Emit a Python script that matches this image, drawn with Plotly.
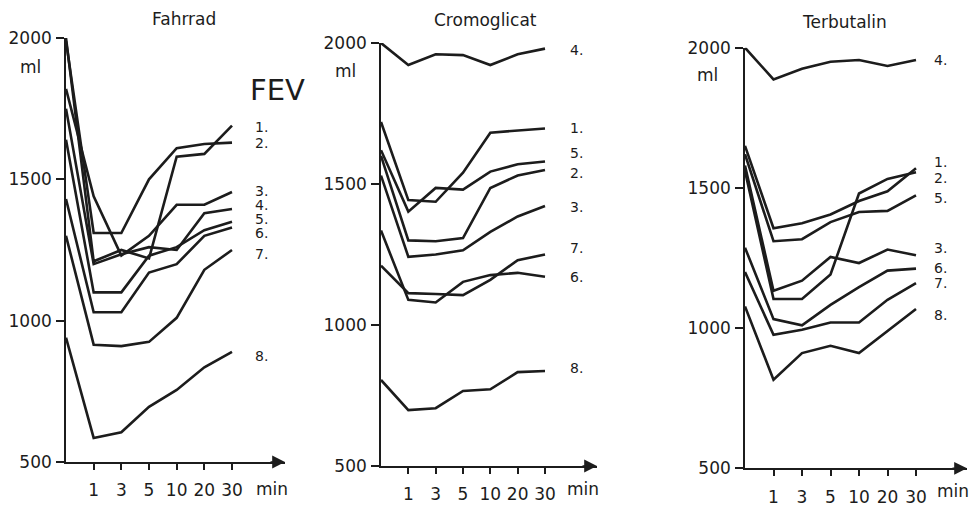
import plotly.graph_objects as go

# ---------------- data ----------------
time_ticks = ["1", "3", "5", "10", "20", "30"]          # pre-value sits at the origin
time_index = [0, 1, 2, 3, 4, 5, 6]
series_names = ["1.", "2.", "3.", "4.", "5.", "6.", "7.", "8."]
panel_titles = ["Fahrrad", "Cromoglicat", "Terbutalin"]
y_ticks = [500, 1000, 1500, 2000]

fahrrad = [
    [2000, 1210, 1250, 1220, 1580, 1590, 1690],
    [1990, 1310, 1310, 1500, 1610, 1625, 1630],
    [1820, 1440, 1230, 1300, 1410, 1410, 1455],
    [1750, 1200, 1235, 1260, 1250, 1380, 1395],
    [1640, 1100, 1100, 1230, 1260, 1320, 1350],
    [1430, 1030, 1030, 1170, 1200, 1300, 1330],
    [1300, 915, 910, 925, 1010, 1180, 1250],
    [940, 585, 605, 695, 755, 835, 890],
]
cromoglicat = [
    [1720, 1443, 1437, 1540, 1682, 1690, 1697],
    [1600, 1300, 1297, 1308, 1486, 1530, 1550],
    [1530, 1242, 1250, 1265, 1330, 1385, 1422],
    [2000, 1922, 1960, 1957, 1922, 1960, 1980],
    [1620, 1402, 1486, 1480, 1544, 1570, 1580],
    [1335, 1089, 1080, 1153, 1177, 1185, 1171],
    [1210, 1113, 1110, 1106, 1160, 1230, 1250],
    [805, 698, 705, 766, 772, 833, 837],
]
terbutalin = [
    [1650, 1356, 1374, 1405, 1453, 1488, 1570],
    [1560, 1104, 1104, 1191, 1480, 1532, 1556],
    [1580, 1133, 1169, 1254, 1232, 1280, 1260],
    [2000, 1887, 1925, 1950, 1956, 1935, 1956],
    [1620, 1310, 1317, 1378, 1414, 1418, 1473],
    [1287, 1032, 1010, 1083, 1146, 1205, 1212],
    [1200, 976, 994, 1020, 1020, 1101, 1160],
    [1077, 816, 911, 937, 911, 988, 1068],
]
panels_data = [fahrrad, cromoglicat, terbutalin]

# ---------------- layout (pixel geometry of the 979x506 window) ----------------
PAGE_W, PAGE_H = 979, 506
BODY_MARGIN = 8                      # browser default margin around the plot div
W, H = PAGE_W - BODY_MARGIN, PAGE_H - BODY_MARGIN
INK = "#1c1c1c"
FONT = "DejaVu Sans"

def px(x):
    return (x - BODY_MARGIN) / W

def py(y):
    return 1 - (y - BODY_MARGIN) / H

# origin x, 30-min tick x, arrow end x, y of 2000, y of 500
geom = [
    dict(x0=66, x30=232, xend=285, ytop=38, ybot=462),
    dict(x0=381, x30=545, xend=597, ytop=43, ybot=466),
    dict(x0=745, x30=916, xend=967, ytop=47.7, ybot=468.3),
]
title_pos = [(184, 19), (485, 20), (844, 22)]
ml_pos = [(30, 67), (345, 71), (707, 75)]
min_pos = [(272, 489), (583, 489), (953, 491)]
label_x = [253, 568, 932]
label_y = [
    {"1.": 127, "2.": 143, "3.": 191, "4.": 205, "5.": 219, "6.": 233, "7.": 254, "8.": 356},
    {"4.": 50, "1.": 128, "5.": 153, "2.": 173, "3.": 207, "7.": 248, "6.": 277, "8.": 368},
    {"4.": 60, "1.": 162, "2.": 178, "5.": 198, "3.": 248, "6.": 268, "7.": 283, "8.": 315},
]

fig = go.Figure()
annotations = []
layout_axes = {}

for p, (data, g) in enumerate(zip(panels_data, geom)):
    sfx = "" if p == 0 else str(p + 1)
    xa, ya = "x" + sfx, "y" + sfx
    step = (g["x30"] - g["x0"]) / 6
    xmax = (g["xend"] - g["x0"]) / step
    for name, vals in zip(series_names, data):
        fig.add_trace(go.Scatter(
            x=time_index, y=vals, mode="lines", name=name,
            line=dict(color=INK, width=2.6), xaxis=xa, yaxis=ya,
            showlegend=False, hoverinfo="skip", cliponaxis=False,
        ))
    layout_axes["xaxis" + sfx] = dict(
        domain=[px(g["x0"]), px(g["xend"])], range=[0, xmax], anchor=ya,
        tickvals=time_index[1:], ticktext=time_ticks, ticks="outside",
        ticklen=6, tickwidth=1.5, tickcolor=INK, showline=True,
        linecolor=INK, linewidth=1.6, showgrid=False, zeroline=False,
        tickfont=dict(family=FONT, size=17, color=INK), ticklabelstandoff=6,
        fixedrange=True, automargin=False,
    )
    layout_axes["yaxis" + sfx] = dict(
        domain=[py(g["ybot"]), py(g["ytop"])], range=[500, 2000], anchor=xa,
        tickvals=y_ticks, ticktext=[str(v) for v in y_ticks], ticks="outside",
        ticklen=8, tickwidth=1.5, tickcolor=INK, showline=True,
        linecolor=INK, linewidth=1.6, showgrid=False, zeroline=False,
        tickfont=dict(family=FONT, size=17, color=INK), ticklabelstandoff=1,
        fixedrange=True, automargin=False,
    )
    # arrow head on the time axis
    annotations.append(dict(
        x=xmax, y=500, xref=xa, yref=ya, text="", showarrow=True,
        ax=-16, ay=0, arrowhead=2, arrowsize=1.6, arrowwidth=1.6, arrowcolor=INK,
        standoff=0,
    ))
    tx, ty = title_pos[p]
    annotations.append(dict(x=px(tx), y=py(ty), xref="paper", yref="paper",
                            text=panel_titles[p], showarrow=False,
                            font=dict(family=FONT, size=17, color=INK),
                            xanchor="center", yanchor="middle"))
    mx, my = ml_pos[p]
    annotations.append(dict(x=px(mx), y=py(my), xref="paper", yref="paper",
                            text="ml", showarrow=False,
                            font=dict(family=FONT, size=17, color=INK),
                            xanchor="center", yanchor="middle"))
    nx, ny = min_pos[p]
    annotations.append(dict(x=px(nx), y=py(ny), xref="paper", yref="paper",
                            text="min", showarrow=False,
                            font=dict(family=FONT, size=17, color=INK),
                            xanchor="center", yanchor="middle"))
    for name in series_names:
        annotations.append(dict(x=px(label_x[p]), y=py(label_y[p][name]),
                                xref="paper", yref="paper", text=name,
                                showarrow=False,
                                font=dict(family=FONT, size=14, color=INK),
                                xanchor="left", yanchor="middle"))

annotations.append(dict(x=px(277), y=py(90), xref="paper", yref="paper",
                        text="FEV", showarrow=False,
                        font=dict(family=FONT, size=29, color=INK),
                        xanchor="center", yanchor="middle"))

fig.update_layout(
    width=W, height=H, margin=dict(l=0, r=0, t=0, b=0, autoexpand=False),
    paper_bgcolor="white", plot_bgcolor="white",
    annotations=annotations, showlegend=False,
    **layout_axes,
)

fig.write_html("out.html", config={"displayModeBar": False})
